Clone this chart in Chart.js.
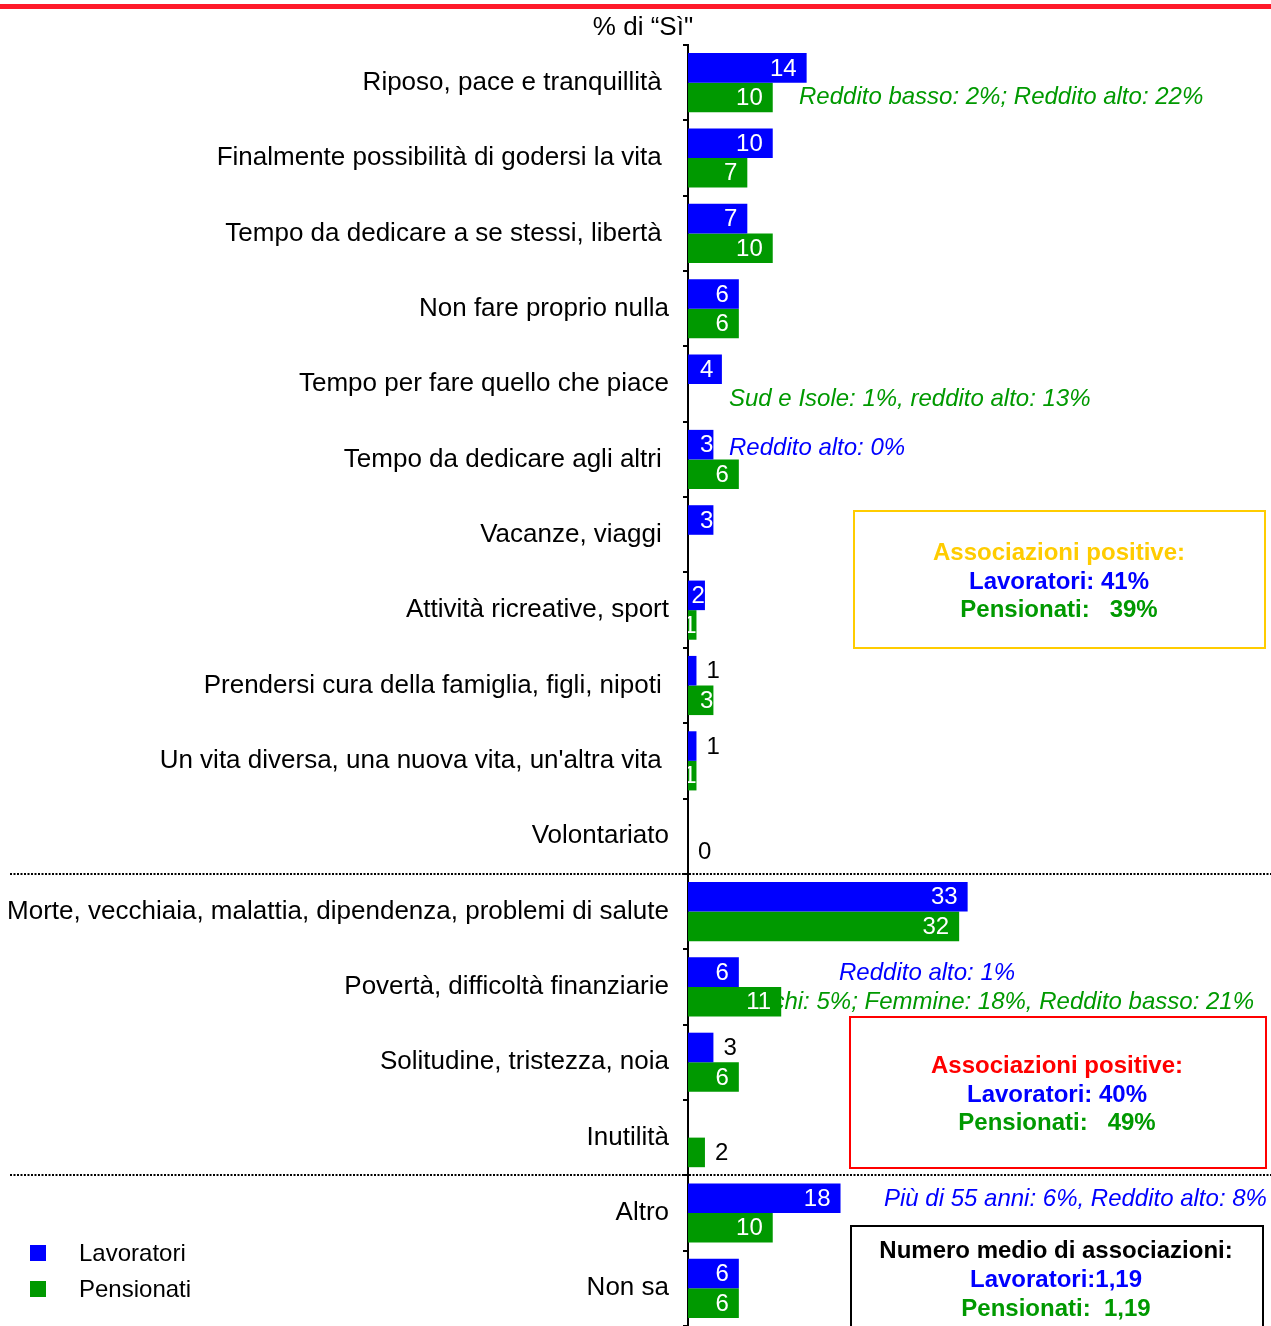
<!DOCTYPE html>
<html>
<head>
<meta charset="utf-8">
<script src="https://cdn.jsdelivr.net/npm/chart.js@4"></script>
<style>
  body { margin: 0; background: #fff; }
  #wrap { width: 1271px; height: 1326px; position: relative; }
</style>
</head>
<body>
<div id="wrap"><canvas id="chart"></canvas></div>
<script>
const categories = [
    'Riposo, pace e tranquillità ',
    'Finalmente possibilità di godersi la vita ',
    'Tempo da dedicare a se stessi, libertà ',
    'Non fare proprio nulla',
    'Tempo per fare quello che piace',
    'Tempo da dedicare agli altri ',
    'Vacanze, viaggi ',
    'Attività ricreative, sport',
    'Prendersi cura della famiglia, figli, nipoti ',
    "Un vita diversa, una nuova vita, un'altra vita ",
    'Volontariato',
    'Morte, vecchiaia, malattia, dipendenza, problemi di salute',
    'Povertà, difficoltà finanziarie',
    'Solitudine, tristezza, noia',
    'Inutilità',
    'Altro',
    'Non sa'
];
const lavoratori = [14, 10, 7, 6, 4, 3, 3, 2, 1, 1, null, 33, 6, 3, null, 18, 6];
const pensionati = [10, 7, 10, 6, null, 6, null, 1, 3, 1, 0, 32, 11, 6, 2, 10, 6];

// which labels sit outside the bar (black)
const lavoratoriFuori = [8, 9, 13];
const pensionatiFuori = [10, 14];

const BLUE = '#0000ff';
const GREEN = '#009900';
const FONT = '"Liberation Sans", Arial, sans-serif';

const extras = {
    id: 'extras',
    beforeDatasetsDraw(chart) {
        const ctx = chart.ctx;
        ctx.save();
        // note under the Povertà bar (partly covered by it)
        ctx.font = 'italic 24px ' + FONT;
        ctx.fillStyle = GREEN;
        ctx.textBaseline = 'middle';
        ctx.textAlign = 'right';
        ctx.fillText('Maschi: 5%; Femmine: 18%, Reddito basso: 21%', 1254, 1002);
        ctx.restore();
    },
    afterDatasetsDraw(chart) {
        const ctx = chart.ctx;
        const x0 = chart.scales.x.getPixelForValue(0);
        ctx.save();
        ctx.textBaseline = 'middle';
        ctx.font = '24px ' + FONT;
        chart.data.datasets.forEach((ds, i) => {
            const meta = chart.getDatasetMeta(i);
            const fuori = i === 0 ? lavoratoriFuori : pensionatiFuori;
            meta.data.forEach((bar, j) => {
                const v = ds.data[j];
                if (v === null) return;
                const txt = String(v);
                const w = ctx.measureText(txt).width;
                if (fuori.includes(j)) {
                    ctx.fillStyle = '#000';
                    ctx.textAlign = 'left';
                    ctx.fillText(txt, bar.x + 10, bar.y + 1);
                } else {
                    // clipped to the bar, like the original
                    ctx.save();
                    ctx.beginPath();
                    ctx.rect(x0, bar.y - bar.height / 2, bar.x - x0, bar.height);
                    ctx.clip();
                    ctx.fillStyle = '#fff';
                    ctx.textAlign = 'right';
                    const right = Math.max(bar.x - 10, Math.min(bar.x, x0 + w + 12));
                    ctx.fillText(txt, right, bar.y + 1);
                    ctx.restore();
                }
            });
        });
        ctx.restore();
    },
    afterDraw(chart) {
        const ctx = chart.ctx;
        const y = chart.scales.y;
        const W = chart.width;
        ctx.save();

        // red rule at the top
        ctx.fillStyle = '#ff1a2a';
        ctx.fillRect(0, 4, W, 5);

        // title
        ctx.fillStyle = '#000';
        ctx.font = '26px ' + FONT;
        ctx.textAlign = 'center';
        ctx.textBaseline = 'middle';
        ctx.fillText('% di “Sì"', 643, 28);

        // dotted separators
        ctx.strokeStyle = '#000';
        ctx.lineWidth = 2;
        ctx.setLineDash([2, 1.5]);
        [10, 14].forEach(k => {
            const yy = Math.round((y.getPixelForValue(k) + y.getPixelForValue(k + 1)) / 2);
            ctx.beginPath();
            ctx.moveTo(10, yy);
            ctx.lineTo(W, yy);
            ctx.stroke();
        });
        ctx.setLineDash([]);

        // notes
        ctx.font = 'italic 24px ' + FONT;
        ctx.textAlign = 'left';
        ctx.fillStyle = GREEN;
        ctx.fillText('Reddito basso: 2%; Reddito alto: 22%', 799, 97);
        ctx.fillText('Sud e Isole: 1%, reddito alto: 13%', 729, 399);
        ctx.fillStyle = BLUE;
        ctx.fillText('Reddito alto: 0%', 729, 448);
        ctx.fillText('Reddito alto: 1%', 839, 973);
        ctx.fillText('Più di 55 anni: 6%, Reddito alto: 8%', 884, 1199);

        // boxes
        ctx.lineWidth = 2;
        ctx.textAlign = 'center';
        ctx.font = 'bold 24px ' + FONT;

        ctx.strokeStyle = '#ffcc00';
        ctx.strokeRect(854, 511, 411, 137);
        ctx.fillStyle = '#ffcc00';
        ctx.fillText('Associazioni positive:', 1059, 553);
        ctx.fillStyle = BLUE;
        ctx.fillText('Lavoratori: 41%', 1059, 582);
        ctx.fillStyle = GREEN;
        ctx.fillText('Pensionati:   39%', 1059, 610);

        ctx.strokeStyle = '#ff0000';
        ctx.strokeRect(850, 1017, 416, 151);
        ctx.fillStyle = '#ff0000';
        ctx.fillText('Associazioni positive:', 1057, 1066);
        ctx.fillStyle = BLUE;
        ctx.fillText('Lavoratori: 40%', 1057, 1095);
        ctx.fillStyle = GREEN;
        ctx.fillText('Pensionati:   49%', 1057, 1123);

        ctx.strokeStyle = '#000';
        ctx.strokeRect(851, 1226, 412, 110);
        ctx.fillStyle = '#000';
        ctx.fillText('Numero medio di associazioni:', 1056, 1251);
        ctx.fillStyle = BLUE;
        ctx.fillText('Lavoratori:1,19', 1056, 1280);
        ctx.fillStyle = GREEN;
        ctx.fillText('Pensionati:  1,19', 1056, 1309);

        // legend
        ctx.font = '24px ' + FONT;
        ctx.textAlign = 'left';
        chart.data.datasets.forEach((ds, i) => {
            const ly = 1253 + i * 36;
            ctx.fillStyle = ds.backgroundColor;
            ctx.fillRect(30, ly - 8, 16, 16);
            ctx.fillStyle = '#000';
            ctx.fillText(ds.label, 79, ly + 1);
        });

        ctx.restore();
    }
};

new Chart(document.getElementById('chart'), {
    type: 'bar',
    data: {
        labels: categories,
        datasets: [
            { label: 'Lavoratori', data: lavoratori, backgroundColor: BLUE },
            { label: 'Pensionati', data: pensionati, backgroundColor: GREEN }
        ]
    },
    options: {
        indexAxis: 'y',
        responsive: true,
        maintainAspectRatio: false,
        animation: false,
        events: [],
        barPercentage: 1,
        categoryPercentage: 0.785,
        layout: { padding: { top: 45, bottom: 0, left: 0, right: 0 } },
        plugins: {
            legend: { display: false },
            tooltip: { enabled: false }
        },
        scales: {
            x: {
                display: false,
                min: 0,
                max: 68.8
            },
            y: {
                afterFit(scale) {
                    scale.width = 688;
                    // labels sit in the middle of each row, no extra room needed
                    scale.paddingTop = 0;
                    scale.paddingBottom = 0;
                    scale._margins.top = 0;
                    scale._margins.bottom = 0;
                },
                border: { display: true, color: '#000', width: 2 },
                grid: {
                    drawOnChartArea: false,
                    drawTicks: true,
                    tickLength: 5,
                    color: '#000',
                    lineWidth: 2
                },
                ticks: {
                    color: '#000',
                    padding: 14,
                    font: { family: FONT, size: 26 }
                }
            }
        }
    },
    plugins: [extras]
});
</script>
</body>
</html>
